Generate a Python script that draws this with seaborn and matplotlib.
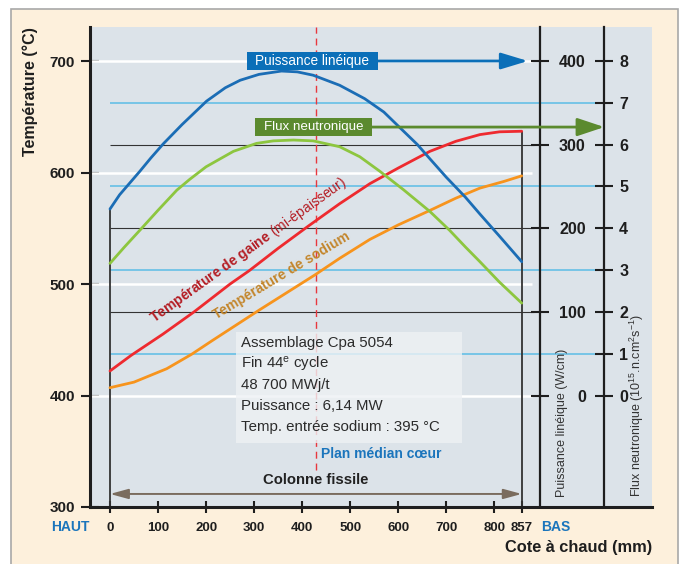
import matplotlib
matplotlib.use("Agg")
import matplotlib.pyplot as plt
import seaborn as sns
from matplotlib.patches import Rectangle

# --- valeurs --------------------------------------------------------------
# Puissance linéique (W/cm) le long de la colonne fissile
cote_puissance = [0, 20, 38, 62, 85, 111, 150, 201, 240, 271, 310, 357, 390,
                  423, 478, 530, 570, 604, 640, 666, 700, 740, 770, 810, 857]
puissance = [223, 240, 252, 268, 284, 301, 324, 352, 368, 377, 384, 388, 387,
             383, 371, 355, 339, 320, 300, 283, 261, 237, 217, 191, 160]

# Flux neutronique (1e15 n.cm2.s-1)
cote_flux = [0, 30, 66, 100, 139, 166, 200, 257, 305, 340, 382, 423, 478,
             520, 562, 610, 666, 707, 740, 770, 810, 857]
flux = [3.16, 3.55, 4.0, 4.43, 4.91, 5.17, 5.47, 5.84, 6.03, 6.09, 6.11, 6.09,
        5.95, 5.71, 5.36, 4.93, 4.40, 3.95, 3.55, 3.20, 2.72, 2.21]

# Températures (°C)
cote_gaine = [0, 44, 110, 175, 250, 290, 350, 413, 478, 541, 600, 666, 720,
              770, 811, 857]
temp_gaine = [422, 436, 455, 475, 500, 512, 532, 552, 572, 590, 604, 619, 628,
              634, 636.5, 637]

cote_sodium = [0, 50, 118, 170, 212, 312, 426, 478, 541, 600, 666, 720, 770,
               820, 857]
temp_sodium = [407, 412, 424, 437, 449, 477, 508, 523, 540, 553, 566, 577, 586,
               592, 597]

temp_ticks = [300, 400, 500, 600, 700]
cote_ticks = [0, 100, 200, 300, 400, 500, 600, 700, 800, 857]
puissance_ticks = [0, 100, 200, 300, 400]
flux_ticks = [0, 1, 2, 3, 4, 5, 6, 7, 8]

grille_temp = [400, 500, 600, 700]
grille_puissance = [100, 200, 300]
grille_flux = [1, 3, 5, 7]

infos = ["Assemblage Cpa 5054", "Fin 44$^{\\mathrm{e}}$ cycle", "48 700 MWj/t",
         "Puissance : 6,14 MW", "Temp. entrée sodium : 395 °C"]

LONGUEUR_FISSILE = 857
# correspondance des échelles : 0 W/cm et 0 flux à 400 °C
T_ZERO, T_PAR_W, T_PAR_FLUX = 400, 0.75, 37.5

X_MIN, X_MAX = -41.6, 1128.2
T_MIN, T_MAX = 300, 730.5
AXE_PUISSANCE_X = 895.7
AXE_FLUX_X = 1028.9

# --- couleurs ---------------------------------------------------------------
FOND = "#dce3e9"
CADRE = "#fdf0dc"
BLEU = "#1b6db5"
BLEU_BOITE = "#0b6fb8"
BLEU_TEXTE = "#1b75bc"
VERT = "#8dc63f"
VERT_BOITE = "#5b8a2e"
ROUGE = "#ee2a2f"
ORANGE = "#f7941d"
BLEU_CLAIR = "#5cbde6"
NOIR = "#1e1e1e"

sns.set_style("white")
plt.rcParams["font.family"] = ["Liberation Sans", "DejaVu Sans"]
plt.rcParams["mathtext.fontset"] = "custom"
plt.rcParams["mathtext.rm"] = "Liberation Sans"
plt.rcParams["mathtext.bf"] = "Liberation Sans:bold"
plt.rcParams["mathtext.it"] = "Liberation Sans:italic"

fig = plt.figure(figsize=(6.82, 5.64), dpi=100)
fig.patch.set_facecolor("white")
fig.add_artist(Rectangle((11 / 682, -0.02), 667 / 682, 1 - 9 / 564 + 0.02,
                         transform=fig.transFigure, facecolor=CADRE,
                         edgecolor="#a8a8a8", lw=1.2, zorder=-1))

ax = fig.add_axes([90 / 682, 57 / 564, 562 / 682, 480 / 564])
ax.set_facecolor(FOND)
ax_p = ax.twinx()
ax_f = ax.twinx()

ax.set_xlim(X_MIN, X_MAX)
ax.set_ylim(T_MIN, T_MAX)
ax_p.set_ylim((T_MIN - T_ZERO) / T_PAR_W, (T_MAX - T_ZERO) / T_PAR_W)
ax_f.set_ylim((T_MIN - T_ZERO) / T_PAR_FLUX, (T_MAX - T_ZERO) / T_PAR_FLUX)

# grilles (toutes sous les courbes)
ax.hlines(grille_temp, X_MIN, 878, colors="white", lw=1.8, zorder=1)
ax.hlines(grille_puissance, 0, 882, colors="#333333", lw=0.8, zorder=1,
          transform=ax_p.transData)
ax.hlines(grille_flux, 0, AXE_FLUX_X, colors=BLEU_CLAIR, lw=1.1, zorder=1,
          transform=ax_f.transData)

# plan médian
ax.vlines(LONGUEUR_FISSILE / 2, 333, T_MAX, colors="#e8373e", lw=1.0,
          linestyles=(0, (5, 3.5)), zorder=1.5)

# bornes de la colonne fissile
ax.vlines(0, T_MIN, T_ZERO + T_PAR_W * puissance[0], colors="#333333", lw=1.3, zorder=2)
ax.vlines(LONGUEUR_FISSILE, T_MIN, temp_gaine[-1], colors="#333333", lw=1.3, zorder=2)

# courbes
sns.lineplot(x=cote_gaine, y=temp_gaine, ax=ax, color=ROUGE, lw=2.0, zorder=4)
sns.lineplot(x=cote_sodium, y=temp_sodium, ax=ax, color=ORANGE, lw=2.0, zorder=4)
sns.lineplot(x=cote_puissance, y=puissance, ax=ax_p, color=BLEU, lw=2.0, zorder=4)
sns.lineplot(x=cote_flux, y=flux, ax=ax_f, color=VERT, lw=2.0, zorder=4)

# cartouche d'informations
ax.add_patch(Rectangle((262, 357.4), 470.7, 99.8, facecolor="#eef1f4",
                       edgecolor="none", alpha=0.8, zorder=2.5))
for i, ligne in enumerate(infos):
    ax.text(272.7, 446.8 - i * 18.7, ligne, fontsize=10.8, color="#2b2b2b",
            va="center", ha="left", zorder=3)

ax.text(440, 347.5, "Plan médian cœur", color=BLEU_TEXTE, fontsize=10,
        fontweight="bold", va="center", ha="left")
ax.text(LONGUEUR_FISSILE / 2, 324.2, "Colonne fissile", color="#222222",
        fontsize=10.7, fontweight="bold", va="center", ha="center")
ax.annotate("", xy=(0, 311.7), xytext=(LONGUEUR_FISSILE, 311.7),
            arrowprops=dict(arrowstyle="<|-|>,head_length=1.1,head_width=0.3",
                            color="#7a6c5e", lw=1.4, shrinkA=0, shrinkB=0,
                            mutation_scale=10))

# étiquettes des courbes de température
ax.text(92, 464.8, r"$\mathbf{Température\ de\ gaine}$ (mi-épaisseur)",
        rotation=35.7, rotation_mode="anchor", ha="left", va="baseline",
        fontsize=10, color="#b41d24", zorder=5)
ax.text(221, 468, "Température de sodium", rotation=31,
        rotation_mode="anchor", ha="left", va="baseline", fontsize=10,
        fontweight="bold", color="#c3862c", zorder=5)

# étiquettes encadrées + flèches vers les axes
ax_p.add_patch(Rectangle((285, 389.2), 273, 21.5, facecolor=BLEU_BOITE,
                         edgecolor="none", zorder=6))
ax_p.text(421.5, 400, "Puissance linéique", color="white", fontsize=9.8,
          ha="center", va="center", zorder=7)
ax_p.annotate("", xy=(870, 400), xytext=(558, 400),
              arrowprops=dict(arrowstyle="-|>,head_length=1.65,head_width=0.5",
                              color=BLEU_BOITE, lw=2.0, shrinkA=0, shrinkB=0,
                              mutation_scale=10), zorder=6)

ax_f.add_patch(Rectangle((302, 6.21), 243.4, 0.43, facecolor=VERT_BOITE,
                         edgecolor="none", zorder=6))
ax_f.text(423.6, 6.42, "Flux neutronique", color="white", fontsize=9.6,
          ha="center", va="center", zorder=7)
ax_f.annotate("", xy=(AXE_FLUX_X, 6.42), xytext=(545.4, 6.42),
              arrowprops=dict(arrowstyle="-|>,head_length=1.65,head_width=0.55",
                              color=VERT_BOITE, lw=2.0, shrinkA=0, shrinkB=0,
                              mutation_scale=10), zorder=6)

# axes
for s in ["top", "right"]:
    ax.spines[s].set_visible(False)
for s in ["left", "bottom"]:
    ax.spines[s].set_linewidth(2.2)
    ax.spines[s].set_color(NOIR)
for a, pos in [(ax_p, AXE_PUISSANCE_X), (ax_f, AXE_FLUX_X)]:
    for s in ["top", "left", "bottom"]:
        a.spines[s].set_visible(False)
    a.spines["right"].set_position(("data", pos))
    a.spines["right"].set_linewidth(1.6)
    a.spines["right"].set_color(NOIR)

ax.set_yticks(temp_ticks, labels=[str(t) for t in temp_ticks],
              fontweight="bold", fontsize=11)
ax.set_xticks(cote_ticks, labels=[str(c) for c in cote_ticks],
              fontweight="bold", fontsize=9.5)
ax.tick_params(axis="y", direction="inout", length=12.5, width=1.5, pad=4.5,
               colors=NOIR, left=True)
ax.tick_params(axis="x", direction="inout", length=8, width=1.5, pad=6.5,
               colors=NOIR, bottom=True)

# étiquettes de puissance alignées à droite (comme sur l'original)
ax_p.set_yticks(puissance_ticks, labels=[str(p) for p in puissance_ticks],
                fontweight="bold", fontsize=11.5)
ax_p.tick_params(axis="y", direction="inout", length=12.5, width=1.5, pad=26.5,
                 colors=NOIR, right=True)
plt.setp(ax_p.get_yticklabels(), ha="right")
ax_f.set_yticks(flux_ticks, labels=[str(f) for f in flux_ticks],
                fontweight="bold", fontsize=11.5)
ax_f.tick_params(axis="y", direction="inout", length=12.5, width=1.5, pad=4.5,
                 colors=NOIR, right=True)

# titres d'axes
ax.text(-0.1068, 1.0, "Température (°C)", transform=ax.transAxes, rotation=90,
        rotation_mode="anchor", ha="right", va="center", fontsize=11.5,
        fontweight="bold", color=NOIR)
ax.text(941, 309, "Puissance linéique (W/cm)", rotation=90, ha="center",
        va="bottom", fontsize=9, color="#333333")
ax.text(1096.4, 309, "Flux neutronique (10$^{15}$.n.cm$^{2}$s$^{-1}$)",
        rotation=90, ha="center", va="bottom", fontsize=9, color="#333333")
ax.annotate("HAUT", xy=(0, 0), xycoords="axes fraction", xytext=(0, -14.4),
            textcoords="offset points", ha="right", va="center", fontsize=10,
            fontweight="bold", color=BLEU_TEXTE)
ax.annotate("BAS", xy=(AXE_PUISSANCE_X, 0), xycoords=("data", "axes fraction"),
            xytext=(0.5, -14.4), textcoords="offset points", ha="left",
            va="center", fontsize=10, fontweight="bold", color=BLEU_TEXTE)
ax.annotate("Cote à chaud (mm)", xy=(1, 0), xycoords="axes fraction",
            xytext=(0, -29.5), textcoords="offset points", ha="right",
            va="center", fontsize=11.8, fontweight="bold", color=NOIR)

ax.set_xlim(X_MIN, X_MAX)
ax.set_ylim(T_MIN, T_MAX)
ax_p.set_ylim((T_MIN - T_ZERO) / T_PAR_W, (T_MAX - T_ZERO) / T_PAR_W)
ax_f.set_ylim((T_MIN - T_ZERO) / T_PAR_FLUX, (T_MAX - T_ZERO) / T_PAR_FLUX)
for a in (ax, ax_p, ax_f):
    a.set_xlabel("")
    a.set_ylabel("")

fig.savefig("out.png", dpi=100)
